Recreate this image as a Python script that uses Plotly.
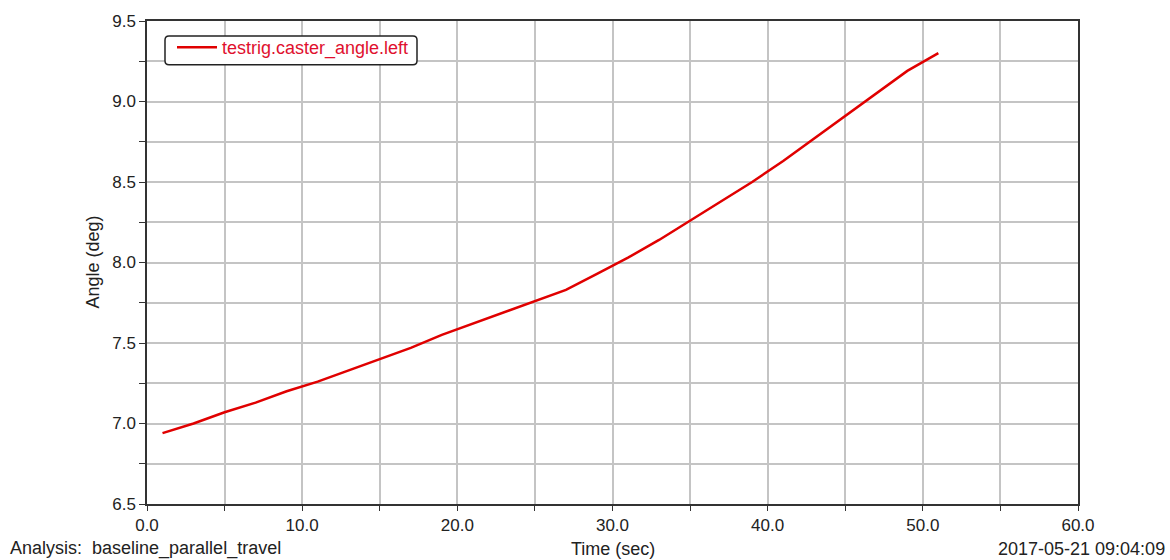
import plotly.graph_objects as go

# Caster angle of the left wheel over the parallel-travel run
time_sec = [1, 3, 5, 7, 9, 11, 13, 15, 17, 19, 21, 23, 25, 27, 29, 31, 33, 35,
            37, 39, 41, 43, 45, 47, 49, 51]
caster_angle_left = [6.94, 7.00, 7.07, 7.13, 7.20, 7.26, 7.33, 7.40, 7.47, 7.55,
                     7.62, 7.69, 7.76, 7.83, 7.93, 8.03, 8.14, 8.26, 8.38, 8.50,
                     8.63, 8.77, 8.91, 9.05, 9.19, 9.30]
series_name = "testrig.caster_angle.left"

FONT = "Liberation Sans, Arial, sans-serif"
GRID = "#c4c4c4"

W, H = 1170, 560
ML, MR, MT, MB = 147, 92, 18, 56
PW, PH = W - ML - MR, H - MT - MB


def px_to_paper(px, py):
    return (px - ML) / PW, (H - MB - py) / PH


def rounded_box(x0, y0, x1, y1, r):
    """SVG path (paper coords) of a rounded rectangle given in pixels."""
    def p(x, y):
        a, b = px_to_paper(x, y)
        return f"{a:.5f},{b:.5f}"
    return " ".join([
        f"M{p(x0 + r, y0)}",
        f"L{p(x1 - r, y0)}",
        f"Q{p(x1, y0)} {p(x1, y0 + r)}",
        f"L{p(x1, y1 - r)}",
        f"Q{p(x1, y1)} {p(x1 - r, y1)}",
        f"L{p(x0 + r, y1)}",
        f"Q{p(x0, y1)} {p(x0, y1 - r)}",
        f"L{p(x0, y0 + r)}",
        f"Q{p(x0, y0)} {p(x0 + r, y0)}Z",
    ])


fig = go.Figure()
fig.add_trace(go.Scatter(
    x=time_sec, y=caster_angle_left, mode="lines", name=series_name,
    line=dict(color="#e00000", width=2.5),
))

leg_x, leg_y = px_to_paper(172, 26)
fig.update_layout(
    width=W, height=H,
    margin=dict(l=ML, r=MR, t=MT, b=MB),
    paper_bgcolor="white", plot_bgcolor="white",
    font=dict(family=FONT, size=17, color="#222"),
    showlegend=True,
    legend=dict(
        x=leg_x, y=leg_y, xanchor="left", yanchor="top",
        bgcolor="rgba(0,0,0,0)", borderwidth=0,
        font=dict(family=FONT, size=18, color="#e0102e"),
        itemwidth=40,
    ),
    shapes=[dict(
        type="path", xref="paper", yref="paper", layer="above",
        path=rounded_box(165, 33, 417, 62, 4),
        line=dict(color="#222", width=1.5), fillcolor="white",
    )],
)

fig.update_xaxes(
    range=[0, 60], dtick=10, tickformat=".1f",
    showline=True, linecolor="#333", linewidth=1.5, mirror=True,
    ticks="outside", ticklen=5, tickcolor="#333",
    showgrid=True, gridcolor=GRID, gridwidth=1.5, zeroline=False,
    minor=dict(dtick=5, ticks="outside", ticklen=5, tickcolor="#333",
               showgrid=True, gridcolor=GRID, gridwidth=1.5),
)
fig.update_yaxes(
    range=[6.5, 9.5], dtick=0.5, tickformat=".1f",
    showline=True, linecolor="#333", linewidth=1.5, mirror=True,
    ticks="outside", ticklen=6, tickcolor="#333",
    showgrid=True, gridcolor=GRID, gridwidth=1.5, zeroline=False,
    minor=dict(dtick=0.25, ticks="outside", ticklen=6, tickcolor="#333",
               showgrid=True, gridcolor=GRID, gridwidth=1.5),
)

fig.add_annotation(text="Angle (deg)", xref="paper", yref="paper",
                   x=(92 - ML) / PW, y=0.5, xanchor="center", yanchor="middle",
                   textangle=-90, showarrow=False, font=dict(size=18))
fig.add_annotation(text="Time (sec)", xref="paper", yref="paper",
                   x=(613 - ML) / PW, y=(H - MB - 549) / PH,
                   xanchor="center", yanchor="middle",
                   showarrow=False, font=dict(size=18))
fig.add_annotation(text="Analysis:  baseline_parallel_travel", xref="paper", yref="paper",
                   x=(8 - ML) / PW, y=(H - MB - 549) / PH,
                   xanchor="left", yanchor="middle",
                   showarrow=False, font=dict(size=18))
fig.add_annotation(text="2017-05-21 09:04:09", xref="paper", yref="paper",
                   x=(1167 - ML) / PW, y=(H - MB - 549) / PH,
                   xanchor="right", yanchor="middle",
                   showarrow=False, font=dict(size=18))

fig.write_html("out.html")
